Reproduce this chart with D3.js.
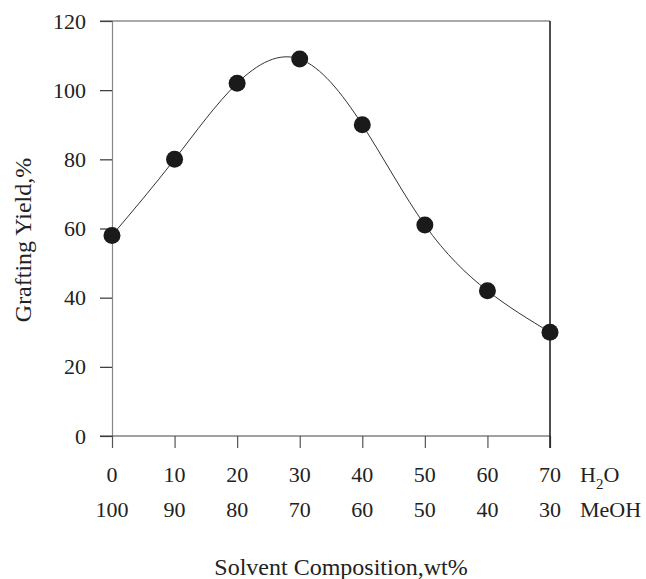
<!DOCTYPE html>
<meta charset="utf-8">
<style>
body { margin: 0; background: #fff; }
svg text { font-family: "Liberation Serif", "Times New Roman", Times, "DejaVu Serif", serif; fill: #222; }
.curve { fill: none; stroke: #333; stroke-width: 1; }
.dot { fill: #1a1a1a; }
</style>
<svg width="646" height="579" font-family="Liberation Serif"></svg>
<script src="https://cdn.jsdelivr.net/npm/d3@7"></script>
<script>

var water = [0, 10, 20, 30, 40, 50, 60, 70];
var methanol = [100, 90, 80, 70, 60, 50, 40, 30];
var yieldPct = [58, 80, 102, 109, 90, 61, 42, 30];
var yTicks = [0, 20, 40, 60, 80, 100, 120];

var serif = "'Liberation Serif', 'Times New Roman', serif";

var svg = d3.select("svg"),
    margin = {top: 21, right: 96, bottom: 143, left: 112},
    width = +svg.attr("width") - margin.left - margin.right,
    height = +svg.attr("height") - margin.top - margin.bottom;

var g = svg.append("g")
    .attr("transform", "translate(" + margin.left + "," + margin.top + ")");

var x = d3.scaleLinear().domain([0, 70]).range([0, width]);
var y = d3.scaleLinear().domain([0, 120]).range([height, 0]);

// left axis, ticks outward
var yAxis = g.append("g")
    .call(d3.axisLeft(y).tickValues(yTicks).tickSize(12).tickPadding(14));
yAxis.attr("font-family", serif).attr("font-size", 22);
yAxis.select(".domain").attr("stroke", "#888").attr("stroke-width", 1.2);
yAxis.selectAll(".tick line").attr("stroke", "#333").attr("stroke-width", 1.2);
yAxis.selectAll(".tick text").attr("fill", "#222");

// bottom axis
var xAxis = g.append("g")
    .attr("transform", "translate(0," + height + ")")
    .call(d3.axisBottom(x).tickValues(water).tickSize(12).tickFormat(""));
xAxis.select(".domain").remove();
xAxis.selectAll(".tick line").attr("stroke", "#555").attr("stroke-width", 1.2);

g.append("line")
    .attr("x1", -12).attr("x2", width)
    .attr("y1", height).attr("y2", height)
    .attr("stroke", "#444").attr("stroke-width", 1.2);

// top and right border
g.append("line")
    .attr("x1", -12).attr("x2", width)
    .attr("y1", 0).attr("y2", 0)
    .attr("stroke", "#555").attr("stroke-width", 1.2);
g.append("line")
    .attr("x1", width).attr("x2", width)
    .attr("y1", 0).attr("y2", height + 12)
    .attr("stroke", "#222").attr("stroke-width", 1.6);

// two rows of composition labels
g.selectAll(".lblw")
    .data(water)
  .enter().append("text")
    .attr("x", function(d) { return x(d); })
    .attr("y", height + 46)
    .attr("text-anchor", "middle")
    .style("font-size", "22px")
    .text(function(d) { return d; });

g.selectAll(".lblm")
    .data(methanol)
  .enter().append("text")
    .attr("x", function(d, i) { return x(water[i]); })
    .attr("y", height + 81)
    .attr("text-anchor", "middle")
    .style("font-size", "22px")
    .text(function(d) { return d; });

var h2o = g.append("text")
    .attr("x", width + 30)
    .attr("y", height + 46)
    .style("font-size", "22px");
h2o.append("tspan").text("H");
h2o.append("tspan").attr("dy", 7).style("font-size", "15px").text("2");
h2o.append("tspan").attr("dy", -7).text("O");

g.append("text")
    .attr("x", width + 30)
    .attr("y", height + 81)
    .style("font-size", "22px")
    .text("MeOH");

// curve and points
var pts = water.map(function(d, i) { return [d, yieldPct[i]]; });

var line = d3.line()
    .x(function(d) { return x(d[0]); })
    .y(function(d) { return y(d[1]); })
    .curve(d3.curveNatural);

g.append("path")
    .datum(pts)
    .attr("class", "curve")
    .attr("d", line);

g.selectAll(".dot")
    .data(pts)
  .enter().append("circle")
    .attr("class", "dot")
    .attr("cx", function(d) { return x(d[0]); })
    .attr("cy", function(d) { return y(d[1]); })
    .attr("r", 8.5);

// titles
svg.append("text")
    .attr("transform", "translate(31,240) rotate(-90)")
    .attr("text-anchor", "middle")
    .style("font-size", "24px")
    .text("Grafting Yield,%");

svg.append("text")
    .attr("x", 341)
    .attr("y", 575)
    .attr("text-anchor", "middle")
    .style("font-size", "24px")
    .text("Solvent Composition,wt%");

</script>
